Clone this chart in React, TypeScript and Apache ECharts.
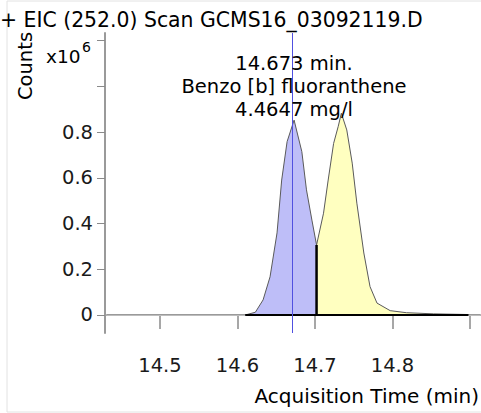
import React, { useEffect, useRef } from "react";
import * as echarts from "echarts";

const titleText = "+ EIC (252.0) Scan GCMS16_03092119.D";
const peakLines = ["14.673 min.", "Benzo [b] fluoranthene", "4.4647 mg/l"];
const xAxisTitle = "Acquisition Time (min)";
const yAxisTitle = "Counts";

const xTicks = [14.5, 14.6, 14.7, 14.8, 14.9];
const xLabels = [14.5, 14.6, 14.7, 14.8];
const yTicks = [0, 0.2, 0.4, 0.6, 0.8, 1.0, 1.2];
const yLabels = [0, 0.2, 0.4, 0.6, 0.8];

const peakTime = 14.673;

const blueTime = [14.61, 14.623, 14.633, 14.642, 14.651, 14.657, 14.664, 14.673, 14.683, 14.689, 14.696, 14.702];
const blueCounts = [0.0, 0.012, 0.066, 0.167, 0.359, 0.59, 0.758, 0.852, 0.714, 0.547, 0.415, 0.306];

const yellowTime = [14.702, 14.711, 14.717, 14.724, 14.73, 14.734, 14.741, 14.748, 14.754, 14.763, 14.771, 14.78, 14.797, 14.818, 14.853, 14.898];
const yellowCounts = [0.306, 0.445, 0.59, 0.75, 0.825, 0.882, 0.809, 0.664, 0.489, 0.271, 0.124, 0.052, 0.019, 0.01, 0.005, 0.002];

const baselineTime = [14.61, 14.898];
const splitTime = 14.702;
const splitCounts = 0.306;

const FONT = "DejaVu Sans";

export default function App() {
  const ref = useRef<HTMLDivElement>(null);
  useEffect(() => {
    if (!ref.current) return;
    const chart = echarts.init(ref.current, null, { renderer: "svg" });
    const blueData = blueTime.map((t, i) => [t, blueCounts[i]]);
    const yellowData = yellowTime.map((t, i) => [t, yellowCounts[i]]);
    chart.setOption({
      animation: false,
      backgroundColor: "#ffffff",
      grid: { left: 107, top: 33, width: 373, height: 300, containLabel: false },
      xAxis: {
        type: "value",
        min: 14.4316,
        max: 14.9129,
        offset: 4,
        axisLine: { show: true, lineStyle: { color: "#9a9a9a", width: 2 } },
        axisTick: { show: true, length: 14, customValues: xTicks, lineStyle: { color: "#8a8a8a", width: 1.5 } },
        axisLabel: {
          customValues: xLabels,
          formatter: (v: number) => v.toFixed(1),
          fontFamily: FONT,
          fontSize: 19.5,
          color: "#1a1a1a",
          margin: 18,
        },
        splitLine: { show: false },
      },
      yAxis: {
        type: "value",
        min: -0.0787,
        max: 1.2328,
        offset: 2,
        axisLine: { show: true, lineStyle: { color: "#9a9a9a", width: 2 } },
        axisTick: { show: true, length: 8, customValues: yTicks, lineStyle: { color: "#8a8a8a", width: 1 } },
        axisLabel: {
          customValues: yLabels,
          formatter: (v: number) => (v === 0 ? "0" : v.toFixed(1)),
          fontFamily: FONT,
          fontSize: 19.5,
          color: "#1a1a1a",
          margin: 12,
        },
        splitLine: { show: false },
      },
      series: [
        {
          type: "line",
          data: blueData,
          symbol: "none",
          lineStyle: { color: "#5a5a5a", width: 1 },
          areaStyle: { color: "#bebef8", opacity: 1 },
          z: 2,
          markLine: {
            silent: true,
            symbol: ["none", "none"],
            label: { show: false },
            data: [{ yAxis: 0, lineStyle: { color: "#bdbdbd", width: 1, type: "solid" } }],
            z: 1,
          },
        },
        {
          type: "line",
          data: yellowData,
          symbol: "none",
          lineStyle: { color: "#5a5a5a", width: 1 },
          areaStyle: { color: "#ffffc0", opacity: 1 },
          z: 2,
        },
        {
          type: "line",
          data: baselineTime.map((t) => [t, 0]),
          symbol: "none",
          lineStyle: { color: "#000000", width: 2 },
          z: 3,
        },
        {
          type: "line",
          data: [
            [splitTime, 0],
            [splitTime, splitCounts],
          ],
          symbol: "none",
          lineStyle: { color: "#000000", width: 2.5 },
          z: 3,
          markLine: {
            silent: true,
            symbol: ["none", "none"],
            label: { show: false },
            data: [{ xAxis: peakTime, lineStyle: { color: "#5050e0", width: 1, type: "solid" } }],
            z: 4,
          },
        },
      ],
      graphic: [
        {
          type: "rect",
          shape: { x: 7, y: 1, width: 480, height: 411 },
          style: { fill: "none", stroke: "#e2e2e2", lineWidth: 1 },
          z: -10,
          silent: true,
        },
        {
          type: "text",
          x: 0,
          y: 19.5,
          style: { text: titleText, fontFamily: FONT, fontSize: 20.4, fill: "#000", align: "left", verticalAlign: "middle" },
        },
        {
          type: "text",
          x: 25,
          y: 66,
          rotation: Math.PI / 2,
          style: { text: yAxisTitle, fontFamily: FONT, fontSize: 19.5, fill: "#000", align: "center", verticalAlign: "middle" },
        },
        {
          type: "text",
          x: 46,
          y: 56,
          style: { text: "x10", fontFamily: FONT, fontSize: 18.5, fill: "#000", align: "left", verticalAlign: "middle" },
        },
        {
          type: "text",
          x: 82,
          y: 47,
          style: { text: "6", fontFamily: FONT, fontSize: 14, fill: "#000", align: "left", verticalAlign: "middle" },
        },
        ...peakLines.map((t, i) => ({
          type: "text",
          x: 294,
          y: 63.5 + i * 23,
          z: 10,
          style: { text: t, fontFamily: FONT, fontSize: 19.5, fill: "#000", align: "center", verticalAlign: "middle" },
        })),
        {
          type: "text",
          x: 479,
          y: 396,
          style: { text: xAxisTitle, fontFamily: FONT, fontSize: 20, fill: "#000", align: "right", verticalAlign: "middle" },
        },
      ],
    });
    return () => chart.dispose();
  }, []);
  return <div ref={ref} style={{ position: "fixed", left: 0, top: 0, width: 481, height: 413 }} />;
}
